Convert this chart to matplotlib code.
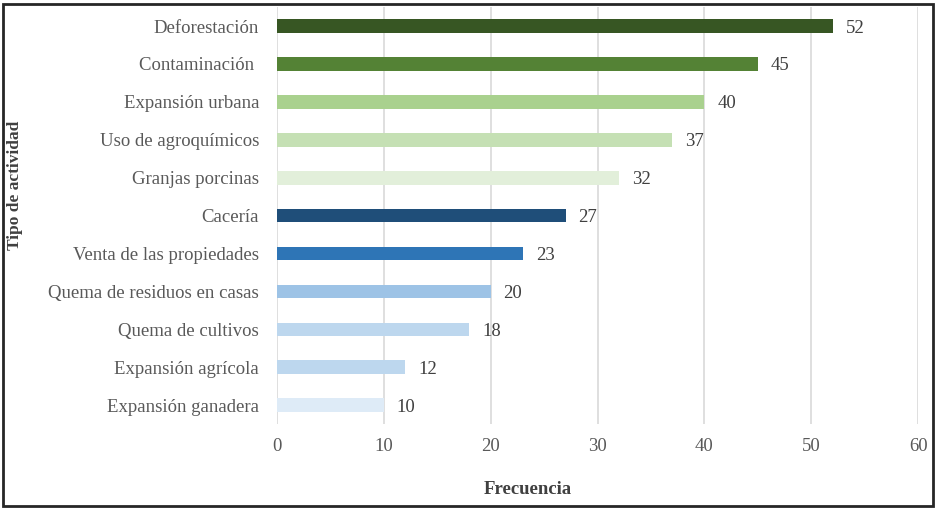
import matplotlib.pyplot as plt
from matplotlib.patches import Rectangle

plt.rcParams['font.family'] = ['Liberation Serif', 'DejaVu Serif']

actividades = ['Deforestación', 'Contaminación ', 'Expansión urbana', 'Uso de agroquímicos',
               'Granjas porcinas', 'Cacería', 'Venta de las propiedades',
               'Quema de residuos en casas', 'Quema de cultivos', 'Expansión agrícola',
               'Expansión ganadera']
frecuencia = [52, 45, 40, 37, 32, 27, 23, 20, 18, 12, 10]
colores = ['#375623', '#548235', '#A9D18E', '#C5E0B4', '#E2EFDA',
           '#1F4E79', '#2E75B6', '#9DC3E6', '#BDD7EE', '#BDD7EE', '#DEEBF7']

fig = plt.figure(figsize=(9.36, 5.08), dpi=100)
ax = fig.add_axes([0.296, 0.165, 0.685, 0.821])

pos = list(range(len(actividades)))
ax.barh(pos, frecuencia, height=0.36, color=colores, zorder=3)
for p, v in zip(pos, frecuencia):
    ax.text(v + 1.2, p, str(v), va='center_baseline', ha='left', fontsize=13.5, color='#404040')

ax.set_yticks(pos)
ax.set_yticklabels(actividades, fontsize=13.5, color='#595959')
ax.set_ylim(len(actividades) - 0.5, -0.5)
ax.set_xlim(0, 60)
ax.set_xticks(range(0, 61, 10))
ax.tick_params(axis='x', labelsize=13.5, labelcolor='#595959', length=0, pad=10)
ax.tick_params(axis='y', length=0, pad=13)
ax.grid(axis='x', color='#D9D9D9', linewidth=1.2, zorder=0)
for s in ax.spines.values():
    s.set_visible(False)

fig.text(528 / 936, 1 - 490 / 508, 'Frecuencia', ha='center', va='center',
         fontsize=13.5, fontweight='bold', color='#404040')
fig.text(15 / 936, 1 - 185 / 508, 'Tipo de actividad', ha='center', va='center',
         rotation=90, fontsize=12.5, fontweight='bold', color='#404040')

fig.patches.append(Rectangle((0.003, 0.004), 0.994, 0.988, transform=fig.transFigure,
                             fill=False, edgecolor='#262626', linewidth=2))

fig.savefig('out.png', dpi=100)
